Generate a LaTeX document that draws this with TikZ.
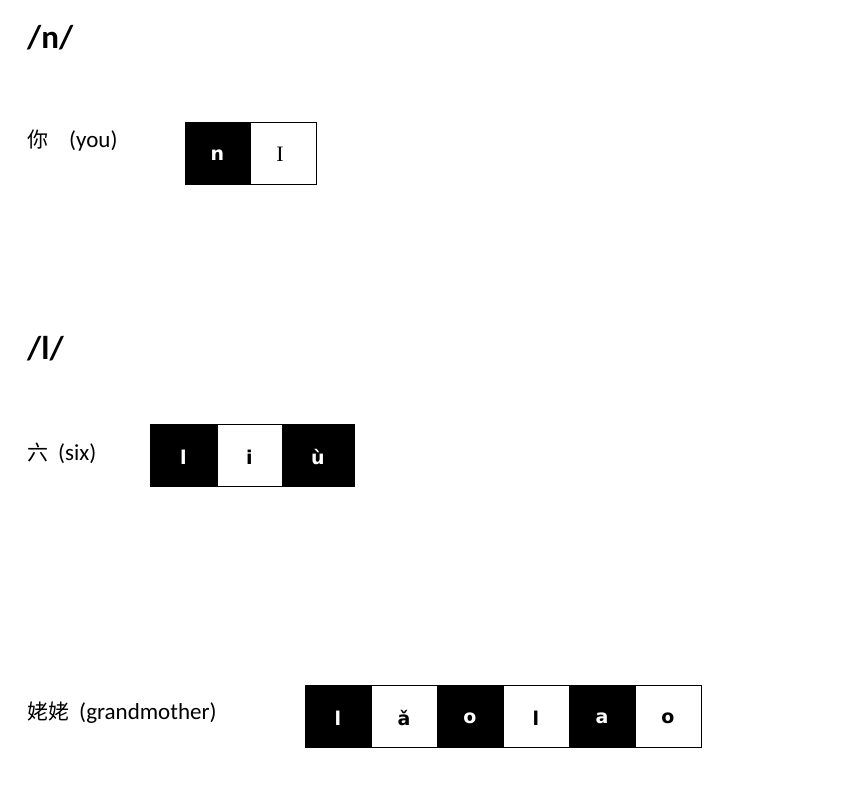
\documentclass[tikz,border=0pt]{standalone}
\usepackage{fontspec}
\setmainfont{Carlito}
\newfontfamily\cjk{Noto Sans CJK SC}
\newfontfamily\boxfont{DejaVu Sans}
\newfontfamily\serifI{Liberation Serif}
\begin{document}
\begin{tikzpicture}[x=1pt,y=-1pt,
  head/.style={anchor=west,inner sep=0pt,font=\fontsize{33}{38}\selectfont\bfseries},
  lbl/.style={anchor=west,inner sep=0pt,font=\fontsize{23}{27}\selectfont},
  cell/.style={minimum height=62pt,inner sep=0pt,text depth=0pt,font=\boxfont\bfseries\fontsize{19}{22}\selectfont},
  blk/.style={cell,draw=black,fill=black,text=white},
  wht/.style={cell,draw=black,fill=white,text=black}]
\useasboundingbox (0,0) rectangle (841,808);
\fill[white] (0,0) rectangle (841,808);
% /n/
\node[head] (hn) at (27,38) {/n/};
\node[lbl] (wn) at (27,141) {{\cjk\fontsize{21}{25}\selectfont 你}\hspace{21pt}(you)};
\node[blk,minimum width=65pt] (n1) at (217.5,153) {\raisebox{-4pt}{n}};
\node[wht,minimum width=66pt] (n2) at (283,153) {\hspace{-6pt}\serifI\mdseries\fontsize{22}{26}\selectfont\raisebox{-3pt}{I}};
\draw (185,122) rectangle (316,184);
% /l/
\node[head] (hl) at (27,349) {/l/};
\node[lbl] (wl) at (27,453) {{\cjk\fontsize{21}{25}\selectfont 六}\hspace{10pt}(six)};
\node[blk,minimum width=67pt] (l1) at (183.5,455) {\raisebox{-4pt}{l}};
\node[wht,minimum width=65pt] (l2) at (249.5,455) {\raisebox{-4pt}{i}};
\node[blk,minimum width=72pt] (l3) at (318,455) {\raisebox{-4pt}{ù}};
% grandmother
\node[lbl] (wg) at (27,713) {{\cjk\fontsize{21}{25}\selectfont 姥姥}\hspace{10pt}(grandmother)};
\node[blk,minimum width=66pt] (g1) at (338,716) {\raisebox{-4pt}{l}};
\node[wht,minimum width=66pt] (g2) at (404,716) {\raisebox{-4pt}{ǎ}};
\node[blk,minimum width=66pt] (g3) at (470,716) {\raisebox{-4pt}{o}};
\node[wht,minimum width=66pt] (g4) at (536,716) {\raisebox{-4pt}{l}};
\node[blk,minimum width=66pt] (g5) at (602,716) {\raisebox{-4pt}{a}};
\node[wht,minimum width=66pt] (g6) at (668,716) {\raisebox{-4pt}{o}};
\draw (305,685) rectangle (701,747);
\end{tikzpicture}
\end{document}
